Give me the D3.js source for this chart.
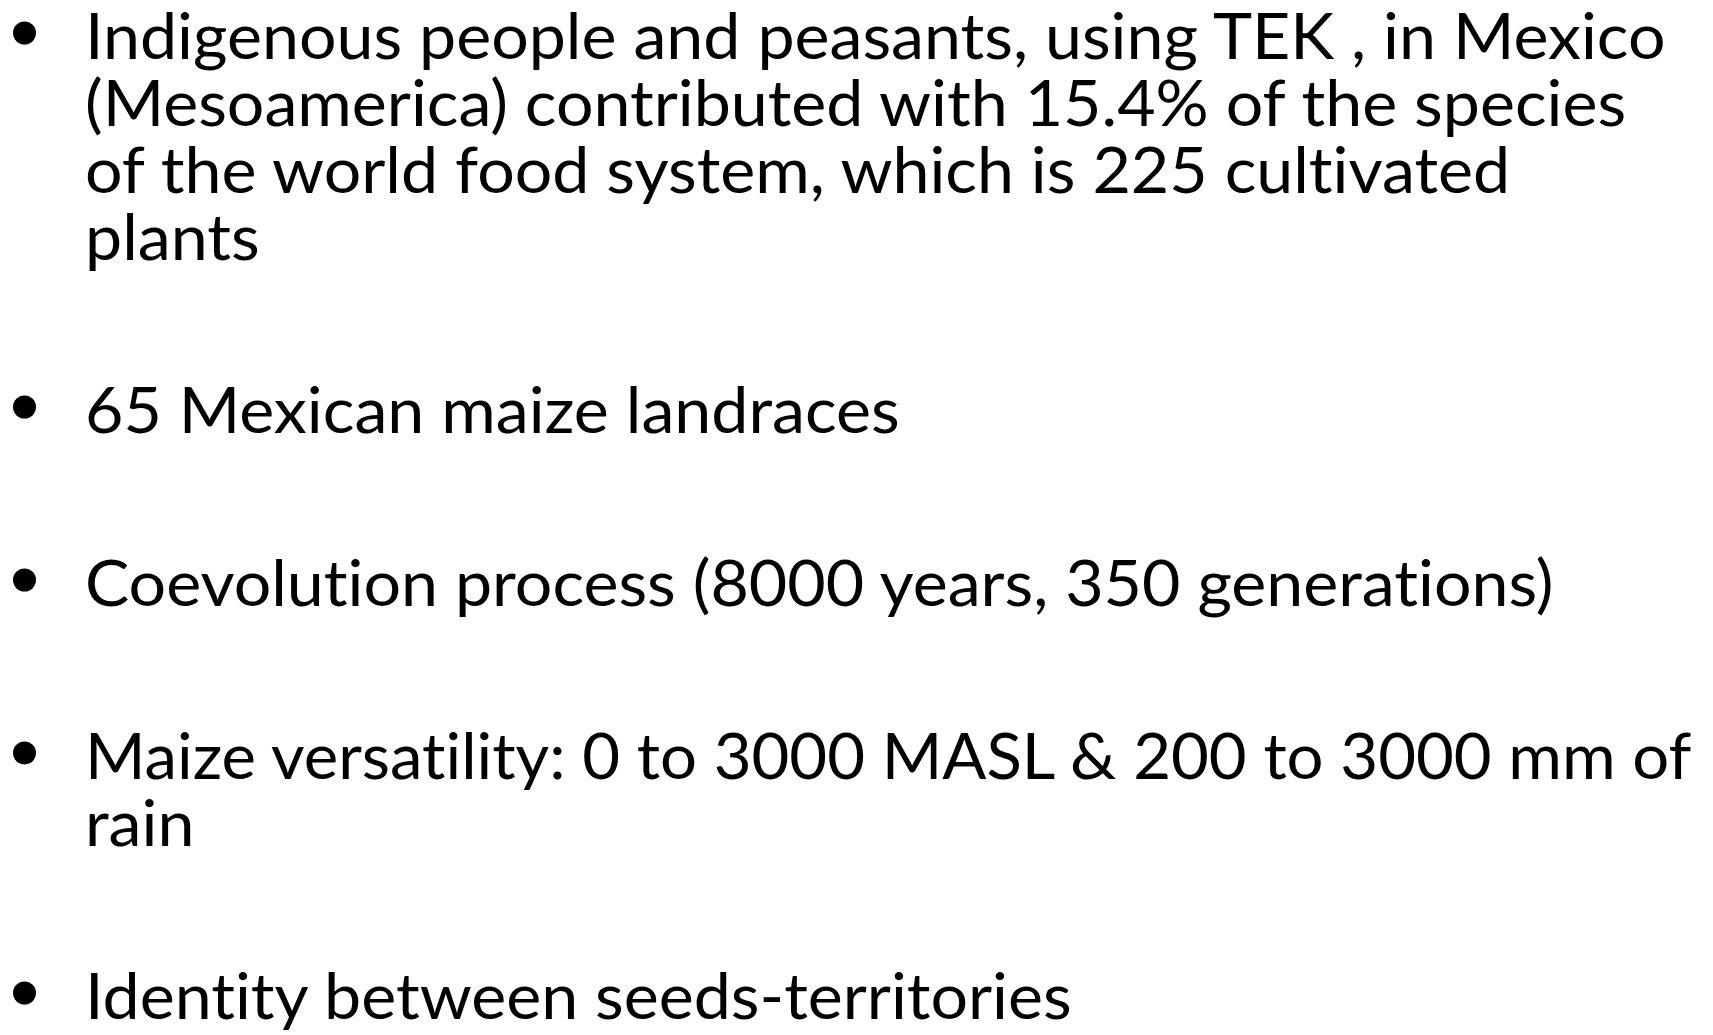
<!DOCTYPE html>
<html><head><meta charset="utf-8">
<script src="https://cdn.jsdelivr.net/npm/d3@7"></script>
<style>html,body{margin:0;padding:0;background:#fff;overflow:hidden}
text{font-variant-ligatures:none;font-feature-settings:"liga" 0,"clig" 0}</style>
</head><body>
<svg id="c" width="1713" height="1035"></svg>
<script>
// Bullet points (each an array of wrapped lines)
const bullet1 = ["Indigenous people and peasants, using TEK , in Mexico",
                 "(Mesoamerica) contributed with 15.4% of the species",
                 "of the world food system, which is 225 cultivated",
                 "plants"];
const bullet2 = ["65 Mexican maize landraces"];
const bullet3 = ["Coevolution process (8000 years, 350 generations)"];
const bullet4 = ["Maize versatility: 0 to 3000 MASL & 200 to 3000 mm of", "rain"];
const bullet5 = ["Identity between seeds-territories"];
const bullets = [bullet1, bullet2, bullet3, bullet4, bullet5];

const svg = d3.select("#c");
const W = 1713, H = 1035;
svg.append("rect").attr("width", W).attr("height", H).attr("fill", "#fff");

const fontSize = 64, lineH = 67, paraGap = 173, firstBase = 59;
const textX = 85, bulletX = 24.5, bulletR = 11.5, targetW1 = 1581, maxRight = 1692;

let rows = [];
let y = firstBase;
bullets.forEach((b, i) => {
  if (i > 0) y += paraGap;
  b.forEach((line, j) => {
    if (j > 0) y += lineH;
    rows.push({text: line, y: y, first: j === 0});
  });
});

const g = svg.append("g");
const texts = g.selectAll("text.t").data(rows).join("text")
  .attr("class", "t")
  .attr("y", d => d.y)
  .attr("font-family", "Lato, 'Open Sans', sans-serif")
  .attr("font-size", fontSize)
  .attr("fill", "#000")
  .text(d => d.text);

const w1 = texts.nodes()[0].getComputedTextLength();
const sx = targetW1 / w1;
texts.each(function(d) {
  const w = this.getComputedTextLength();
  const s = Math.min(sx, (maxRight - textX) / w);
  d3.select(this).attr("transform", `translate(${textX},0) scale(${s},1)`);
});

g.selectAll("circle.b").data(rows.filter(d => d.first)).join("circle")
  .attr("class", "b")
  .attr("cx", bulletX)
  .attr("cy", d => d.y - 26)
  .attr("r", bulletR)
  .attr("fill", "#000");
</script>
</body></html>
